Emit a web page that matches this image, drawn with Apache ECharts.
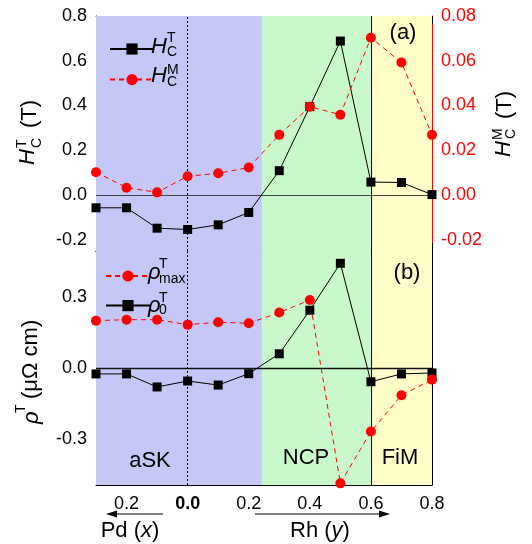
<!DOCTYPE html>
<html>
<head>
<meta charset="utf-8">
<script src="https://cdn.jsdelivr.net/npm/echarts@6/dist/echarts.min.js"></script>
<style>
  html, body { margin: 0; padding: 0; background: #fff; }
  #chart { width: 532px; height: 544px; }
</style>
</head>
<body>
<div id="chart"></div>
<script>
// composition: Pd side is x < 0, Rh side is x > 0
var xs = [-0.3, -0.2, -0.1, 0, 0.1, 0.2, 0.3, 0.4, 0.5, 0.6, 0.7, 0.8];
var hcT = [-0.057, -0.057, -0.148, -0.154, -0.133, -0.078, 0.109, 0.395, 0.688, 0.058, 0.056, 0.002];
var hcM = [0.0102, 0.0033, 0.0012, 0.0084, 0.0097, 0.0123, 0.0269, 0.0395, 0.0359, 0.0703, 0.0592, 0.0269];
var rho0 = [-0.025, -0.025, -0.080, -0.055, -0.072, -0.024, 0.060, 0.244, 0.442, -0.058, -0.025, -0.021];
var rhoMax = [0.200, 0.204, 0.204, 0.183, 0.193, 0.189, 0.234, 0.287, -0.487, -0.268, -0.115, -0.049];

// phase regions
var phases = [
  { name: 'aSK', from: -0.3, to: 0.243, color: '#c5c7f7' },
  { name: 'NCP', from: 0.243, to: 0.6, color: '#c9f9cb' },
  { name: 'FiM', from: 0.6, to: 0.8, color: '#fefcc7' }
];

var xMajor = [-0.2, 0, 0.2, 0.4, 0.6, 0.8];
var xMinor = [-0.3, -0.1, 0.1, 0.3, 0.5, 0.7];
var hTicks = [-0.2, -0.1, 0, 0.1, 0.2, 0.3, 0.4, 0.5, 0.6, 0.7, 0.8];
var hLabels = [-0.2, 0, 0.2, 0.4, 0.6, 0.8];
var mTicks = [-0.02, -0.01, 0, 0.01, 0.02, 0.03, 0.04, 0.05, 0.06, 0.07, 0.08];
var mLabels = [-0.02, 0, 0.02, 0.04, 0.06, 0.08];
var rTicks = [-0.45, -0.3, -0.15, 0, 0.15, 0.3, 0.45];
var rLabels = [-0.3, 0, 0.3];

var FONT = '"Liberation Sans", Arial, sans-serif';
var RED = '#ff0000';

function pairs(ys) {
  return xs.map(function (x, i) { return [x, ys[i]]; });
}

function xAx(grid, pos, ticks, len, withLabels, lineColor) {
  return {
    type: 'value', gridIndex: grid, position: pos, min: -0.3, max: 0.8,
    axisLine: { show: !!lineColor, onZero: false, lineStyle: { color: lineColor || '#000', width: 1 } },
    axisTick: { show: true, inside: true, length: len, customValues: ticks, lineStyle: { color: '#000' } },
    axisLabel: withLabels ? {
      show: true, customValues: xMajor, margin: 10, color: '#000', fontSize: 18, fontFamily: FONT,
      formatter: function (v) {
        if (Math.abs(v) < 1e-9) return '{b|0.0}';
        return Math.abs(v).toFixed(1);
      },
      rich: { b: { fontWeight: 'bold', fontSize: 18, fontFamily: FONT, color: '#000' } }
    } : { show: false },
    splitLine: { show: false }
  };
}

function yAx(grid, pos, min, max, ticks, labels, digits, color) {
  return {
    type: 'value', gridIndex: grid, position: pos, min: min, max: max,
    axisLine: { show: true, onZero: false, lineStyle: { color: color, width: 1 } },
    axisTick: { show: true, inside: true, length: 7, customValues: ticks, lineStyle: { color: color } },
    axisLabel: labels ? {
      show: true, customValues: labels, margin: 9, color: color, fontSize: 18, fontFamily: FONT,
      formatter: function (v) { return (Math.abs(v) < 1e-9 ? 0 : v).toFixed(digits); }
    } : { show: false },
    splitLine: { show: false }
  };
}

function bands() {
  return phases.map(function (p) {
    return [{ xAxis: p.from, itemStyle: { color: p.color } }, { xAxis: p.to }];
  });
}

function guideSeries(xi, yi, zeroColor, zeroWidth) {
  return {
    type: 'line', xAxisIndex: xi, yAxisIndex: yi, data: [], z: 1, silent: true,
    markArea: { silent: true, data: bands() },
    markLine: {
      silent: true, symbol: ['none', 'none'], label: { show: false },
      data: [
        { yAxis: 0, lineStyle: { color: zeroColor, width: zeroWidth, type: 'solid' } },
        { xAxis: 0, lineStyle: { color: '#000', width: 1, type: [2, 2] } },
        { xAxis: 0.6, lineStyle: { color: '#000', width: 1, type: 'solid' } }
      ]
    }
  };
}

function dataSeries(name, xi, yi, ys, color, symbol, size, dashed) {
  return {
    name: name, type: 'line', xAxisIndex: xi, yAxisIndex: yi, data: pairs(ys), z: 5,
    symbol: symbol, symbolSize: size,
    itemStyle: { color: color },
    lineStyle: { color: color, width: 1, type: dashed ? [5, 4] : 'solid' }
  };
}

// helper for stacked sub/superscript labels built from text pieces
function txt(s, x, y, size, opts) {
  opts = opts || {};
  return {
    type: 'text', z: 20, silent: true,
    style: {
      text: s, x: x, y: y, fill: opts.color || '#000',
      font: (opts.italic ? 'italic ' : '') + size + 'px ' + FONT,
      align: opts.align || 'left', verticalAlign: 'middle',
      textAlign: opts.align || 'left', textVerticalAlign: 'middle'
    }
  };
}

function rotGroup(cx, cy, children) {
  return { type: 'group', x: cx, y: cy, rotation: Math.PI / 2, children: children };
}

function arrow(x1, x2, y) {
  var dir = x2 > x1 ? 1 : -1;
  return [
    { type: 'line', z: 20, silent: true, shape: { x1: x1, y1: y, x2: x2 - dir * 8, y2: y }, style: { stroke: '#000', lineWidth: 1 } },
    { type: 'polygon', z: 20, silent: true, shape: { points: [[x2, y], [x2 - dir * 11, y - 3.5], [x2 - dir * 11, y + 3.5]] }, style: { fill: '#000' } }
  ];
}

var chart = echarts.init(document.getElementById('chart'), null, { renderer: 'canvas' });

var graphics = [
  // left title, top panel
  rotGroup(31, 133, [
    txt('H', -32, -3, 22, { italic: true }),
    txt('T', -15, -9, 14),
    txt('C', -15, 6, 14),
    txt('(T)', 5, -1, 22)
  ]),
  // right title, top panel
  rotGroup(504, 127, [
    txt('H', -30, 0, 22, { italic: true }),
    txt('M', -13, -6, 14),
    txt('C', -12, 7, 14),
    txt('(T)', 8, 1, 22)
  ]),
  // left title, bottom panel
  rotGroup(31, 368, [
    txt('\u03c1', -56, 1, 22, { italic: true }),
    txt('T', -45, -10, 14),
    txt('(\u03bc\u03a9 cm)', -31, 0, 22)
  ]),
  // legend labels
  txt('H', 151, 47, 22, { italic: true }),
  txt('T', 167, 38, 14),
  txt('C', 167, 52, 14),
  txt('H', 151, 76, 22, { italic: true }),
  txt('M', 167, 70, 14),
  txt('C', 167, 82, 14),
  txt('\u03c1', 148, 273, 22, { italic: true }),
  txt('T', 159, 264, 14),
  txt('max', 159, 279, 14),
  txt('\u03c1', 148, 306, 22, { italic: true }),
  txt('T', 159, 298, 14),
  txt('0', 159, 310, 14),
  // panel tags and phase names
  txt('(a)', 403, 33, 22, { align: 'center' }),
  txt('(b)', 407, 273, 22, { align: 'center' }),
  txt('aSK', 150, 461, 22, { align: 'center' }),
  txt('NCP', 306, 458, 22, { align: 'center' }),
  txt('FiM', 400, 458, 22, { align: 'center' }),
  // composition axes
  {
    type: 'text', z: 20, silent: true,
    style: {
      text: '{n|Pd (}{i|x}{n|)}', x: 130, y: 531, align: 'center', verticalAlign: 'middle',
      textAlign: 'center', textVerticalAlign: 'middle',
      rich: { n: { fontSize: 22, fontFamily: FONT, fill: '#000' }, i: { fontSize: 22, fontFamily: FONT, fontStyle: 'italic', fill: '#000' } }
    }
  },
  {
    type: 'text', z: 20, silent: true,
    style: {
      text: '{n|Rh (}{i|y}{n|)}', x: 320, y: 531, align: 'center', verticalAlign: 'middle',
      textAlign: 'center', textVerticalAlign: 'middle',
      rich: { n: { fontSize: 22, fontFamily: FONT, fill: '#000' }, i: { fontSize: 22, fontFamily: FONT, fontStyle: 'italic', fill: '#000' } }
    }
  }
].concat(arrow(163, 106, 514), arrow(255, 390, 514));

var option = {
  animation: false,
  backgroundColor: '#fff',
  grid: [
    { left: 96, right: 100, top: 16, height: 235 },
    { left: 96, right: 100, top: 251, height: 234 }
  ],
  legend: [
    {
      data: ['HcT', 'HcM'], orient: 'vertical', left: 104, top: 37,
      itemWidth: 44, itemHeight: 14, itemGap: 18, selectedMode: false,
      formatter: function () { return ''; }
    },
    {
      data: ['rhoMax', 'rho0'], orient: 'vertical', left: 100, top: 264,
      itemWidth: 44, itemHeight: 14, itemGap: 17, selectedMode: false,
      formatter: function () { return ''; }
    }
  ],
  xAxis: [
    xAx(0, 'bottom', xMajor, 8, false, '#000'),
    xAx(0, 'bottom', xMinor, 4, false, null),
    xAx(0, 'top', xMajor, 8, false, '#555'),
    xAx(0, 'top', xMinor, 4, false, null),
    xAx(1, 'bottom', xMajor, 8, true, '#000'),
    xAx(1, 'bottom', xMinor, 4, false, null),
    xAx(1, 'top', xMajor, 8, false, '#000'),
    xAx(1, 'top', xMinor, 4, false, null)
  ],
  yAxis: [
    yAx(0, 'left', -0.25, 0.8, hTicks, hLabels, 1, '#000'),
    yAx(0, 'right', -0.025, 0.08, mTicks, mLabels, 2, RED),
    yAx(1, 'left', -0.494, 0.494, rTicks, rLabels, 1, '#000'),
    yAx(1, 'right', -0.494, 0.494, rTicks, null, 1, '#000')
  ],
  series: [
    guideSeries(0, 0, '#444', 1),
    guideSeries(4, 2, '#111', 1.3),
    dataSeries('HcT', 0, 0, hcT, '#000', 'rect', 9, false),
    dataSeries('HcM', 0, 1, hcM, RED, 'circle', 10, true),
    dataSeries('rho0', 4, 2, rho0, '#000', 'rect', 9, false),
    dataSeries('rhoMax', 4, 2, rhoMax, RED, 'circle', 10, true)
  ],
  graphic: graphics
};

chart.setOption(option);
</script>
</body>
</html>
